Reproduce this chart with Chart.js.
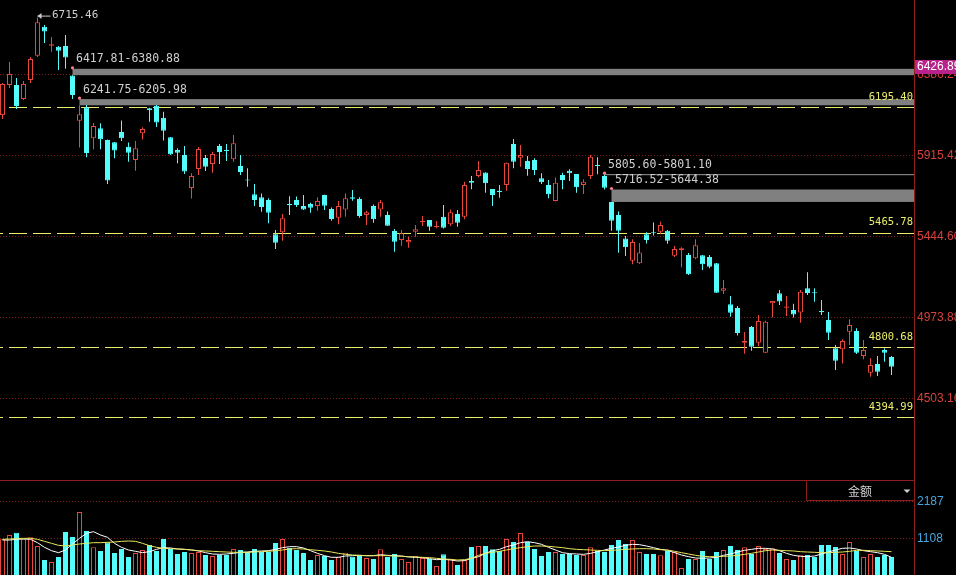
<!DOCTYPE html>
<html><head><meta charset="utf-8">
<script src="https://cdn.jsdelivr.net/npm/chart.js@4.4.1/dist/chart.umd.min.js"></script>
<style>
html,body{margin:0;padding:0;background:#000;overflow:hidden;}
#wrap{position:relative;width:956px;height:575px;background:#000;}
#c1{position:absolute;left:0;top:0;}
#c2{position:absolute;left:0;top:480px;}
</style></head>
<body><div id="wrap"><canvas id="c1" width="956" height="480"></canvas><canvas id="c2" width="956" height="95"></canvas></div>
<script>
// ---- data ----
const openP = [6149,6324,6324,6242,6353,6494,6663,6552,6546,6550,
6379,6116,6193,6014,6072,6004,5991,6051,5965,5888,
6043,6188,6203,6134,6020,5946,5917,5725,5836,5900,
5865,5969,5946,5892,5853,5775,5689,5671,5656,5456,
5468,5632,5656,5621,5632,5621,5684,5603,5553,5601,
5671,5661,5568,5621,5601,5568,5475,5423,5410,5471,
5526,5539,5499,5558,5514,5574,5558,5766,5795,5816,
5719,5710,5743,5981,5901,5882,5888,5782,5743,5650,
5801,5826,5806,5743,5795,5859,5795,5644,5568,5432,
5303,5288,5456,5467,5471,5477,5332,5363,5336,5317,
5335,5324,5288,5128,5049,5028,4826,4918,4826,4768,
5055,5113,5030,5016,5002,5142,5119,5010,4958,4794,
4788,4890,4894,4749,4652,4702,4784,4743];
const highP = [6335,6457,6364,6347,6487,6715.46,6673,6603,6550,6614,
6380.88,6205.98,6208,6103,6101,6007,5993,6118,5990,5998,
6078,6192,6208,6169,6022,5956,5969,5811,5964,5917,
5936,5981,5981,6033,5917,5840,5748,5694,5665,5481,
5574,5677,5676,5685,5640,5671,5686,5612,5650,5694,
5714,5671,5593,5630,5655,5588,5487,5481,5442,5510,
5563,5540,5534,5626,5601,5597,5762,5795,5882,5817,
5720,5743,5873,6010,5975,5911,5898,5811,5772,5787,
5814,5834,5807,5776,5917,5904,5801.10,5644.38,5588,5446,
5427,5406,5468,5525,5529,5481,5388,5381,5348,5427,
5336,5336,5289,5190,5098,5040,4888,4923,4987,4954,
5069,5133,5098,5053,5133,5235,5142,5074,5005,4813,
4846,4962,4910,4842,4736,4749,4794,4749];
const lowP = [6126,6306,6184,6237,6335,6486,6568,6517,6411,6417.81,
6241.75,5961,5904,5950,5950,5748,5898,5998,5878,5826,
6007,6110,6080,6002,5917,5869,5807,5664,5801,5824,
5814,5865,5882,5878,5801,5733,5621,5587,5520,5371,
5419,5568,5615,5597,5582,5593,5597,5535,5514,5558,
5651,5553,5510,5524,5558,5505,5355,5390,5378,5442,
5504,5477,5491,5490,5504,5500,5543,5718,5787,5698,
5621,5669,5710,5840,5849,5797,5801,5748,5665,5648,
5718,5766,5698,5690,5778,5805.60,5716.52,5477,5349,5330,
5282,5283,5403,5449,5460,5402,5324,5264,5220,5311,
5249,5259,5115,5109,4977,4868,4762,4780,4807,4766,
4973,5045,4981,4973,4942,5103,5064,4987,4842,4668,
4706,4813,4761,4730,4629,4633,4716,4639];
const closeP = [6330,6388,6202,6330,6475,6688,6634,6560,6523,6484,
6266,6154,5929,6086,6008,5769,5943,6014,5930,5956,
6068,6178,6106,6058,5921,5930,5821,5795,5952,5849,
5923,5934,5940,5985,5818,5769,5655,5615,5582,5407,
5549,5625,5626,5601,5611,5650,5622,5545,5621,5665,
5663,5562,5584,5543,5642,5506,5413,5462,5423,5485,
5533,5500,5504,5494,5584,5524,5743,5756,5830,5753,
5685,5702,5872,5878,5917,5836,5830,5758,5689,5756,
5772,5811,5729,5762,5907,5853,5727,5535,5477,5381,
5411,5351,5423,5462,5510,5419,5371,5375,5224,5392,
5282,5268,5117,5142,5001,4883,4836,4803,4952,4948,
5068,5065,5036,4990,5123,5115,5113,5003,4884,4722,
4836,4929,4768,4784,4697,4658,4768,4687];
const amount = [1090,1216,1284,1090,1148,895,487,429,575,1303,
1158,1887,1333,856,750,1002,691,808,575,691,
779,924,750,1099,808,662,720,691,720,633,
604,633,633,808,779,720,808,720,720,983,
1099,837,779,691,487,633,604,487,584,701,
584,604,545,516,798,575,662,516,429,604,
545,516,312,652,516,341,487,866,895,895,
798,750,1099,1012,1274,1012,808,604,720,720,
662,662,633,633,856,750,720,924,1070,954,
1070,720,662,662,623,750,720,254,516,516,
750,516,720,779,895,779,856,662,895,808,
827,691,516,487,623,633,575,924,924,866,
662,1012,750,575,662,575,633,575];
const amountMa5 = [1070,1070,1090,1099,1090,992,856,759,701,779,
954,1119,1265,1313,1216,1148,973,856,779,740,
701,730,798,847,837,808,798,779,750,701,
662,652,662,681,711,720,740,750,759,798,
847,876,876,837,759,681,613,565,565,604,
613,623,613,613,642,623,613,604,575,565,
555,526,497,507,487,458,468,536,584,681,
759,798,876,924,992,1022,992,944,856,779,
701,672,662,652,681,730,779,827,866,915,
944,934,895,847,798,769,701,633,584,545,
536,545,565,623,662,720,769,798,827,827,
808,759,681,623,594,584,604,662,720,779,
827,837,808,759,730,701,652,565];
const amountMa10 = [1090,1099,1109,1119,1119,1090,1031,973,915,895,
924,954,973,992,992,1002,1012,1031,1041,1031,
973,905,856,827,817,808,798,779,759,750,
740,730,720,711,711,711,720,730,740,759,
779,808,817,808,788,769,750,720,681,652,
633,623,613,613,613,613,604,594,584,575,
565,555,536,516,507,487,497,536,623,681,
711,740,779,817,847,876,895,895,886,866,
847,817,798,788,779,769,759,769,779,798,
808,817,817,808,788,779,740,701,662,623,
594,584,584,594,604,623,652,681,720,759,
779,769,759,750,730,720,711,701,701,711,
720,740,769,769,759,750,740,730];
const priceTicks = [4503.16, 4973.88, 5444.60, 5915.42, 6386.24];
const amountTicks = [1108, 2187];
const levelLines = [6195.40, 5465.78, 4800.68, 4394.99];
const gapIndex = [10, 11, 86, 87];
const gapHigh = [6417.81, 6241.75, 5805.60, 5716.52];
const gapLow = [6380.88, 6205.98, 5801.10, 5644.38];
const markPrice = 6426.89;
const panelName = '金额';

// ---- styles ----
const RED = '#e8473c', CYAN = '#54fcfc', GRIDRED = '#7a1c1c', AXISRED = '#8c1e1e';
const YEL = '#ecec6c', GREYTXT = '#cfcfcf';
const idx = openP.map((_, i) => i);
const isUp = i => closeP[i] >= openP[i];
const lineCol = c => isUp(c.dataIndex) ? RED : CYAN;
const fillCol = c => isUp(c.dataIndex) ? '#000000' : CYAN;
const xScaleCfg = () => ({ type: 'linear', min: -2.5 / 7, max: 911.5 / 7, display: false, offset: false });
const MONO = '"DejaVu Sans Mono", monospace';
const SANS = '"Liberation Sans", Arial, sans-serif';
const fitRight = s => { s.width = 42; s.paddingTop = 0; s.paddingBottom = 0; s.paddingLeft = 0; s.paddingRight = 0; };

const overlay1 = {
  id: 'ov1',
  beforeDatasetsDraw(chart) {
    const { ctx, chartArea: a, scales: { x, y } } = chart;
    ctx.save();
    for (let k = 0; k < gapIndex.length; k++) {
      const x0 = x.getPixelForValue(gapIndex[k]);
      const y0 = y.getPixelForValue(gapHigh[k]);
      const y1 = y.getPixelForValue(gapLow[k]);
      ctx.fillStyle = (y1 - y0) < 2 ? '#9a9a9a' : '#808080';
      ctx.fillRect(x0, y0, a.right - x0, Math.max(1, y1 - y0));
    }
    ctx.strokeStyle = YEL; ctx.lineWidth = 1;
    ctx.setLineDash([18, 6]); ctx.lineDashOffset = 15;
    for (const v of levelLines) {
      const yy = Math.round(y.getPixelForValue(v)) + 0.5;
      ctx.beginPath(); ctx.moveTo(a.left, yy); ctx.lineTo(a.right, yy); ctx.stroke();
    }
    ctx.restore();
  },
  afterDatasetsDraw(chart) {
    const { ctx, chartArea: a, scales: { x, y } } = chart;
    ctx.save();
    ctx.fillStyle = YEL; ctx.font = '10.5px ' + MONO; ctx.textAlign = 'right'; ctx.textBaseline = 'middle';
    for (const v of levelLines) {
      ctx.fillText(v.toFixed(2), a.right - 1, y.getPixelForValue(v) - 10);
    }
    ctx.font = '11.5px ' + MONO; ctx.textAlign = 'left';
    for (let k = 0; k < gapIndex.length; k++) {
      const x0 = x.getPixelForValue(gapIndex[k]);
      const y0 = y.getPixelForValue(gapHigh[k]);
      ctx.fillStyle = GREYTXT;
      ctx.fillText(gapHigh[k].toFixed(2) + '-' + gapLow[k].toFixed(2), x0 + 3.5, y0 - 9.5);
      ctx.fillStyle = '#ff7f8c';
      ctx.beginPath(); ctx.arc(x0, y0 - 1, 1.6, 0, Math.PI * 2); ctx.fill();
    }
    let mi = 0; highP.forEach((v, i) => { if (v > highP[mi]) mi = i; });
    const mx = x.getPixelForValue(mi), my = y.getPixelForValue(highP[mi]) - 2;
    ctx.strokeStyle = GREYTXT; ctx.fillStyle = GREYTXT; ctx.lineWidth = 1;
    ctx.beginPath(); ctx.moveTo(mx, my + 0.5); ctx.lineTo(mx + 13, my + 0.5); ctx.stroke();
    ctx.beginPath(); ctx.moveTo(mx, my + 0.5); ctx.lineTo(mx + 4, my - 2.5); ctx.lineTo(mx + 4, my + 3.5); ctx.closePath(); ctx.fill();
    ctx.font = '11px ' + MONO; ctx.textBaseline = 'middle';
    ctx.fillText(highP[mi].toFixed(2), mx + 14.5, my);
    ctx.restore();
  },
  afterDraw(chart) {
    const { ctx, chartArea: a, scales: { y } } = chart;
    const yy = y.getPixelForValue(markPrice);
    ctx.save();
    ctx.fillStyle = '#b8228c';
    ctx.fillRect(a.right + 1, Math.round(yy) - 7, chart.width - a.right - 1, 14);
    ctx.fillStyle = '#ffffff'; ctx.font = '12px ' + SANS; ctx.textBaseline = 'middle'; ctx.textAlign = 'left';
    ctx.fillText(markPrice.toFixed(2), a.right + 3, Math.round(yy));
    ctx.restore();
  }
};

new Chart(document.getElementById('c1'), {
  type: 'bar',
  data: { datasets: [
    { label: 'wick', data: idx.map(i => ({ x: i, y: [lowP[i], highP[i]] })), backgroundColor: lineCol,
      borderWidth: 0, barThickness: 1, grouped: false, inflateAmount: 0, order: 2 },
    { label: 'body', data: idx.map(i => ({ x: i, y: [openP[i], closeP[i]] })), backgroundColor: fillCol,
      borderColor: lineCol, borderWidth: 1, borderSkipped: false, barThickness: 5, minBarLength: 1,
      grouped: false, inflateAmount: 0, order: 1 }
  ] },
  options: {
    responsive: false, animation: false, events: [],
    layout: { padding: 0 },
    plugins: { legend: { display: false }, tooltip: { enabled: false } },
    scales: {
      x: xScaleCfg(),
      y: { position: 'right', min: 4028.4, max: 6817.76,
        afterBuildTicks: s => { s.ticks = priceTicks.map(v => ({ value: v })); },
        afterFit: fitRight,
        ticks: { color: '#d8403c', font: { family: SANS, size: 12 }, padding: 3, autoSkip: false,
          callback: v => Number(v).toFixed(2) },
        grid: { color: GRIDRED, drawTicks: false, lineWidth: 1 },
        border: { display: true, color: AXISRED, width: 1, dash: [1, 2] } }
    }
  },
  plugins: [overlay1]
});

const overlay2 = {
  id: 'ov2',
  afterDraw(chart) {
    const { ctx, chartArea: a } = chart;
    ctx.save();
    ctx.strokeStyle = AXISRED; ctx.lineWidth = 1;
    ctx.beginPath(); ctx.moveTo(0, 0.5); ctx.lineTo(a.right, 0.5); ctx.stroke();
    ctx.fillStyle = '#000';
    ctx.fillRect(807, 1, a.right - 807, 20);
    ctx.beginPath(); ctx.moveTo(806.5, 0); ctx.lineTo(806.5, 20.5); ctx.lineTo(a.right, 20.5); ctx.stroke();
    ctx.fillStyle = GREYTXT; ctx.font = '12px "Noto Sans CJK SC", sans-serif';
    ctx.textAlign = 'center'; ctx.textBaseline = 'middle';
    ctx.fillText(panelName, 860, 11);
    ctx.beginPath(); ctx.moveTo(903.5, 9.5); ctx.lineTo(910.5, 9.5); ctx.lineTo(907, 13); ctx.closePath(); ctx.fill();
    ctx.restore();
  }
};

new Chart(document.getElementById('c2'), {
  type: 'bar',
  data: { datasets: [
    { type: 'line', label: 'MA10', data: idx.map(i => ({ x: i, y: amountMa10[i] })), borderColor: '#e8e85a',
      borderWidth: 1, pointRadius: 0, tension: 0, order: 0 },
    { type: 'line', label: 'MA5', data: idx.map(i => ({ x: i, y: amountMa5[i] })), borderColor: '#ffffff',
      borderWidth: 1, pointRadius: 0, tension: 0, order: 0 },
    { label: 'amount', data: idx.map(i => ({ x: i, y: amount[i] })), backgroundColor: fillCol, borderColor: lineCol,
      borderWidth: 1, borderSkipped: false, barThickness: 5, grouped: false, inflateAmount: 0, order: 1 }
  ] },
  options: {
    responsive: false, animation: false, events: [],
    layout: { padding: 0 },
    plugins: { legend: { display: false }, tooltip: { enabled: false } },
    scales: {
      x: xScaleCfg(),
      y: { position: 'right', min: 49.6, max: 2819.8,
        afterBuildTicks: s => { s.ticks = amountTicks.map(v => ({ value: v })); },
        afterFit: fitRight,
        ticks: { color: '#46a6dc', font: { family: SANS, size: 12 }, padding: 3, autoSkip: false,
          callback: v => String(Math.round(v)) },
        grid: { color: GRIDRED, drawTicks: false, lineWidth: 1 },
        border: { display: true, color: AXISRED, width: 1, dash: [1, 2] } }
    }
  },
  plugins: [overlay2]
});
</script>
</body></html>
